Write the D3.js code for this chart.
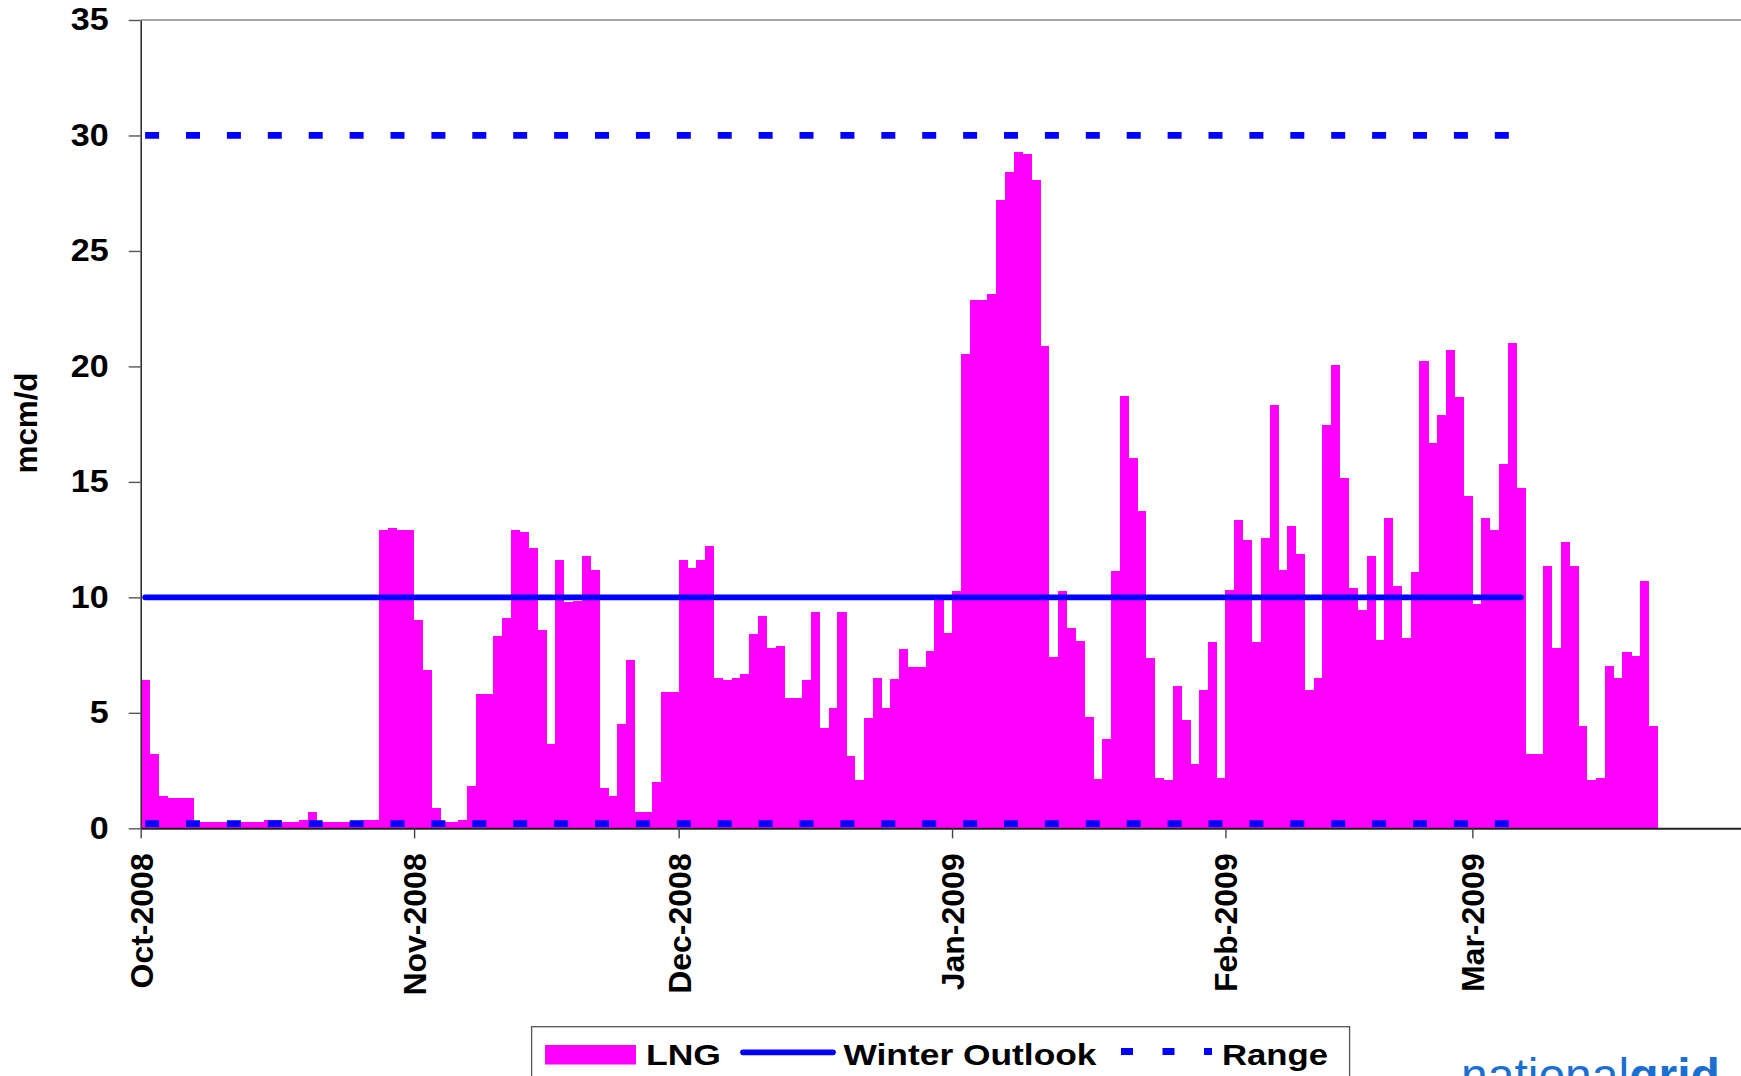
<!DOCTYPE html>
<html>
<head>
<meta charset="utf-8">
<script src="https://cdn.jsdelivr.net/npm/d3@7"></script>
<style>
  html, body { margin: 0; padding: 0; background: #fff; }
  svg { display: block; }
  text { font-family: "Liberation Sans", Arial, Helvetica, sans-serif; }
</style>
</head>
<body>
<svg id="chart" width="1741" height="1076"></svg>
<script>
// ---------------- DATA ----------------
const startDate = "2008-10-01";
const lngOct = [6.43, 3.22, 1.40, 1.31, 1.31, 1.31, 0.27, 0.27, 0.27, 0.27,
                0.27, 0.27, 0.27, 0.27, 0.36, 0.36, 0.27, 0.27, 0.36, 0.71,
                0.27, 0.27, 0.27, 0.27, 0.27, 0.36, 0.36, 12.93, 13.01, 12.93, 12.93];
const lngNov = [9.03, 6.86, 0.88, 0.27, 0.27, 0.36, 1.83, 5.82, 5.82, 8.33,
                9.11, 12.93, 12.84, 12.15, 8.59, 3.65, 11.63, 9.81, 9.84, 11.80,
                11.19, 1.75, 1.40, 4.52, 7.29, 0.71, 0.71, 2.00, 5.91, 5.91];
const lngDec = [11.63, 11.28, 11.63, 12.23, 6.51, 6.43, 6.51, 6.69, 8.42, 9.20,
                7.81, 7.90, 5.65, 5.65, 6.43, 9.37, 4.35, 5.21, 9.37, 3.13,
                2.09, 4.78, 6.51, 5.21, 6.45, 7.75, 6.97, 6.97, 7.67, 9.95, 8.44];
const lngJan = [10.26, 20.53, 22.87, 22.87, 23.12, 27.20, 28.42, 29.27, 29.20, 28.07,
                20.88, 7.40, 10.26, 8.69, 8.09, 4.81, 2.12, 3.86, 11.13, 18.72,
                16.03, 13.72, 7.38, 2.18, 2.09, 6.17, 4.69, 2.79, 5.99, 8.07, 2.18];
const lngFeb = [10.33, 13.36, 12.49, 8.07, 12.58, 18.34, 11.19, 13.10, 11.89, 5.99,
                6.51, 17.48, 20.08, 15.18, 10.41, 9.46, 11.80, 8.16, 13.45, 10.50,
                8.25, 11.11, 20.25, 16.69, 17.91, 20.69, 18.69, 14.40];
const lngMar = [9.73, 13.45, 12.93, 15.79, 21.03, 14.75, 3.22, 3.22, 11.37, 7.81,
                12.41, 11.37, 4.43, 2.09, 2.18, 7.03, 6.51, 7.63, 7.46, 10.69, 4.43];

const winterOutlook = [{date: "2008-10-01", value: 10}, {date: "2009-03-06", value: 10}];
const rangeHigh = [{date: "2008-10-01", value: 30}, {date: "2009-03-06", value: 30}];
const rangeLow  = [{date: "2008-10-01", value: 0.2}, {date: "2009-03-06", value: 0.2}];

const monthTicks = ["2008-10-01", "2008-11-01", "2008-12-01", "2009-01-01", "2009-02-01", "2009-03-01"];
const yTicks = [0, 5, 10, 15, 20, 25, 30, 35];
const xDomain = ["2008-10-01", "2009-04-01"];
const yDomain = [0, 35];
const legendLabels = ["LNG", "Winter Outlook", "Range"];
const yLabel = "mcm/d";

// ---------------- BUILD ----------------
(function () {
const DAY = 86400000;
const parse = s => { const [yy, mm, dd] = s.split("-").map(Number); return new Date(Date.UTC(yy, mm - 1, dd)); };
const lng = [].concat(lngOct, lngNov, lngDec, lngJan, lngFeb, lngMar);
const t0 = parse(startDate).getTime();
const bars = lng.map((v, i) => ({date: new Date(t0 + i * DAY), value: v}));

const svg = d3.select("#chart");
svg.append("rect").attr("width", 1741).attr("height", 1076).attr("fill", "#fff");

const plotLeft = 140.7, plotTop = 20, plotBottom = 828.3;
const pxPerDay = 8.819;
const nDays = (parse(xDomain[1]) - parse(xDomain[0])) / DAY;
const plotRight = plotLeft + nDays * pxPerDay;

const x = d3.scaleUtc().domain(xDomain.map(parse)).range([plotLeft, plotRight]);
const y = d3.scaleLinear().domain(yDomain).range([plotBottom, plotTop]);

// plot top border
svg.append("line").attr("x1", plotLeft).attr("x2", plotRight).attr("y1", plotTop).attr("y2", plotTop)
  .attr("stroke", "#8a8a8a").attr("stroke-width", 1.5);

// bars
svg.append("g").selectAll("rect").data(bars).join("rect")
  .attr("x", d => x(d.date))
  .attr("width", d => x(new Date(d.date.getTime() + DAY)) - x(d.date) + 0.4)
  .attr("y", d => y(d.value))
  .attr("height", d => y(0) - y(d.value))
  .attr("fill", "#FF00FF")
  .attr("shape-rendering", "crispEdges");

const lineGen = d3.line()
  .x(d => x(new Date(parse(d.date).getTime() + DAY / 2)))
  .y(d => y(d.value));

// range lines
[rangeHigh, rangeLow].forEach(s => {
  svg.append("path").attr("d", lineGen(s))
    .attr("fill", "none").attr("stroke", "#0000FF")
    .attr("stroke-width", 6.8).attr("stroke-dasharray", "14 26.9");
});
// winter outlook
svg.append("path").attr("d", lineGen(winterOutlook))
  .attr("fill", "none").attr("stroke", "#0000FF")
  .attr("stroke-width", 5.7).attr("stroke-linecap", "round");

// y axis
const yAxis = svg.append("g").attr("transform", `translate(${plotLeft},0)`)
  .call(d3.axisLeft(y).tickValues(yTicks).tickSize(12).tickSizeOuter(0).tickPadding(20));
yAxis.select(".domain").attr("stroke", "#333").attr("stroke-width", 1.6);
yAxis.selectAll(".tick line").attr("stroke", "#555").attr("stroke-width", 1.4);
yAxis.selectAll(".tick text").attr("font-size", 31).attr("font-weight", "bold")
  .attr("fill", "#000").attr("font-family", "Liberation Sans, Arial, sans-serif")
  .each(function () {
    const len = this.getComputedTextLength();
    d3.select(this).attr("textLength", len * 1.1).attr("lengthAdjust", "spacingAndGlyphs");
  });

// x axis
const xAxis = svg.append("g").attr("transform", `translate(0,${plotBottom})`)
  .call(d3.axisBottom(x).tickValues(monthTicks.map(parse)).tickFormat(d3.utcFormat("%b-%Y"))
        .tickSize(10).tickSizeOuter(0));
xAxis.select(".domain").attr("stroke", "#222").attr("stroke-width", 2);
xAxis.selectAll(".tick line").attr("stroke", "#444").attr("stroke-width", 1.4);
xAxis.selectAll(".tick text")
  .attr("font-size", 32).attr("font-weight", "bold").attr("fill", "#000")
  .attr("font-family", "Liberation Sans, Arial, sans-serif")
  .attr("text-anchor", "end")
  .attr("transform", "translate(0,25) rotate(-90)")
  .attr("x", 0).attr("y", 0).attr("dy", "0.36em");

// y label
svg.append("text").attr("transform", "translate(37,423) rotate(-90)")
  .attr("text-anchor", "middle").attr("font-size", 31).attr("font-weight", "bold")
  .attr("textLength", 101).attr("lengthAdjust", "spacingAndGlyphs")
  .text(yLabel);

// legend
const lg = svg.append("g");
lg.append("rect").attr("x", 531.6).attr("y", 1026.7).attr("width", 818).attr("height", 80)
  .attr("fill", "#fff").attr("stroke", "#555").attr("stroke-width", 1.3);
lg.append("rect").attr("x", 545).attr("y", 1045).attr("width", 91).attr("height", 19.5).attr("fill", "#FF00FF");
lg.append("text").attr("x", 646).attr("y", 1065).attr("font-size", 30).attr("font-weight", "bold")
  .attr("textLength", 75).attr("lengthAdjust", "spacingAndGlyphs").text(legendLabels[0]);
lg.append("line").attr("x1", 743).attr("x2", 833).attr("y1", 1052.3).attr("y2", 1052.3)
  .attr("stroke", "#0000FF").attr("stroke-width", 5.7).attr("stroke-linecap", "round");
lg.append("text").attr("x", 843.5).attr("y", 1065).attr("font-size", 30).attr("font-weight", "bold")
  .attr("textLength", 253).attr("lengthAdjust", "spacingAndGlyphs").text(legendLabels[1]);
lg.append("line").attr("x1", 1121).attr("x2", 1212).attr("y1", 1051.5).attr("y2", 1051.5)
  .attr("stroke", "#0000FF").attr("stroke-width", 7).attr("stroke-dasharray", "12 29.5");
lg.append("text").attr("x", 1222).attr("y", 1065).attr("font-size", 30).attr("font-weight", "bold")
  .attr("textLength", 106).attr("lengthAdjust", "spacingAndGlyphs").text(legendLabels[2]);

// logo text (cut off at the bottom edge, as in the reference)
svg.append("text").attr("x", 1461).attr("y", 1092).attr("font-size", 48).attr("fill", "#1a6fd0")
  .call(t => {
    t.append("tspan").attr("font-weight", "normal").text("national");
    t.append("tspan").attr("font-weight", "bold").text("grid");
  });
})();
</script>
</body>
</html>
